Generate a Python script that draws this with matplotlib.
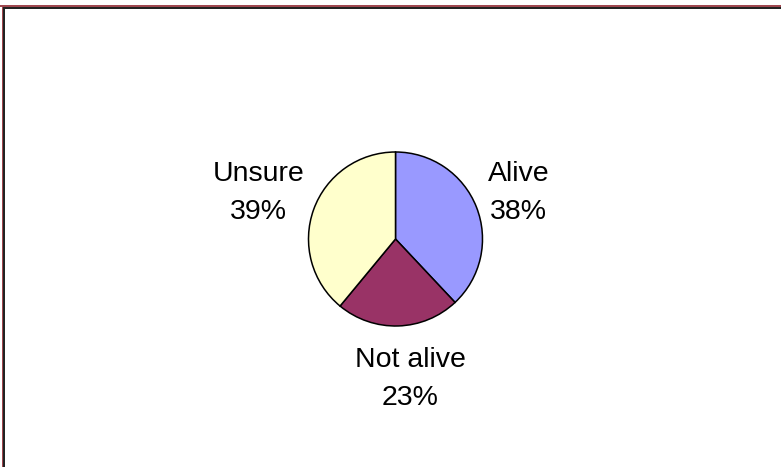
import numpy as np
import matplotlib
matplotlib.use("Agg")
import matplotlib.pyplot as plt
from matplotlib.patches import Rectangle

# data
labels = ["Alive", "Not alive", "Unsure"]
shares = [38, 23, 39]
colors = ["#9999FF", "#993366", "#FFFFCC"]

# label placement (radius multiples, angle nudge in degrees)
label_dist = [1.51, 1.62, 1.66]
label_nudge = [-1.2, 4.2, 1.3]

W, H = 781, 467
fig = plt.figure(figsize=(W / 100, H / 100), dpi=100)
fig.patch.set_facecolor("white")
ax = fig.add_axes([0, 0, 1, 1])

cx, cy, r = 395.5, H - 239, 87
wedges, _ = ax.pie(shares, colors=colors, startangle=90, counterclock=False,
                   center=(cx, cy), radius=r,
                   wedgeprops=dict(edgecolor="black", linewidth=1.1))
ax.set_xlim(0, W)
ax.set_ylim(0, H)
ax.set_aspect("equal")
ax.axis("off")

for w, lab, val, d, nudge in zip(wedges, labels, shares, label_dist, label_nudge):
    ang = np.deg2rad((w.theta1 + w.theta2) / 2 + nudge)
    x = cx + r * d * np.cos(ang)
    y = cy + r * d * np.sin(ang)
    ax.text(x, y, f"{lab}\n{val}%", ha="center", va="center",
            multialignment="center", fontsize=20.5, family="Liberation Sans",
            linespacing=1.58, color="black")

# frame: only top and left edges visible
maroon = "#A0474F"
dark = "#222222"


def band(x0, y0, w, h, color):
    # rectangle given in pixels from the top-left corner
    fig.patches.append(Rectangle((x0 / W, 1 - (y0 + h) / H), w / W, h / H,
                                 transform=fig.transFigure, color=color, lw=0))


band(0, 5, W, 2, maroon)
band(2, 5, 1.2, H, maroon)
band(3.2, 7, W, 2, dark)
band(3.2, 7, 1.5, H, dark)

fig.savefig("out.png", dpi=100)
